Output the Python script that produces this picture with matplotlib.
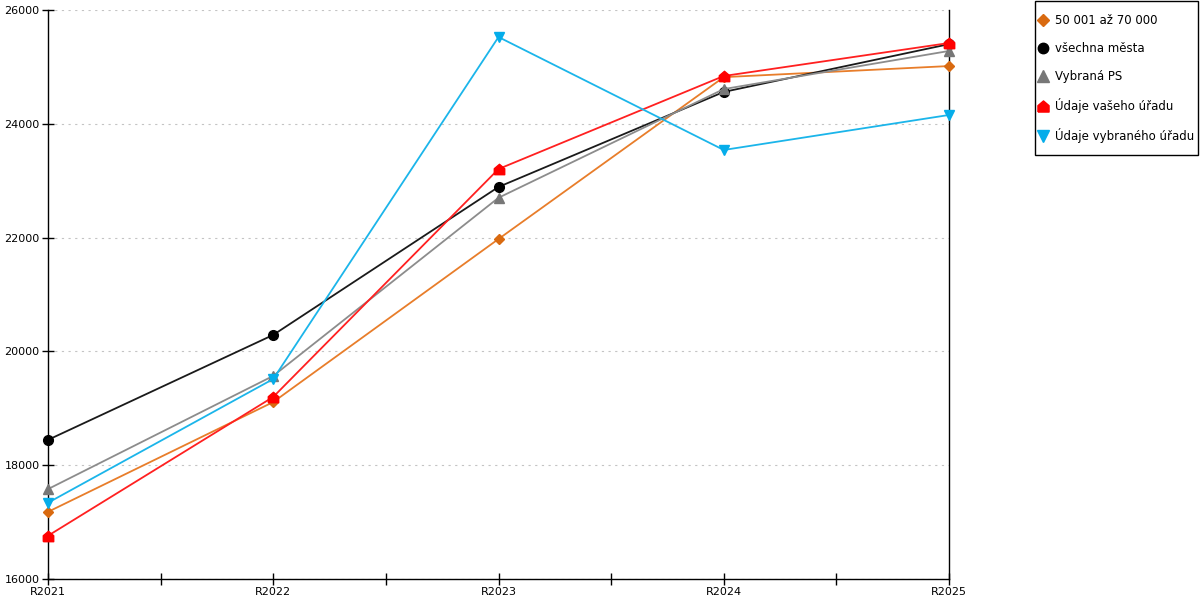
import matplotlib
matplotlib.use("Agg")
import matplotlib.pyplot as plt
from matplotlib.ticker import MultipleLocator
from matplotlib.patches import Rectangle

categories = ["R2021", "R2022", "R2023", "R2024", "R2025"]
s_5070 = [17180, 19110, 21975, 24820, 25015]
s_all = [18445, 20290, 22890, 24560, 25400]
s_ps = [17580, 19570, 22700, 24610, 25280]
s_vas = [16760, 19200, 23205, 24840, 25420]
s_vyb = [17340, 19515, 25525, 23540, 24155]
labels = ["50 001 až 70 000", "všechna města", "Vybraná PS", "Údaje vašeho úřadu", "Údaje vybraného úřadu"]

house = [(-1, -1), (1, -1), (1, 0.15), (0, 1), (-1, 0.15), (-1, -1)]

styles = [
    dict(color="#E87D2A", marker="D", mfc="#D96A10", mec="#D96A10", ms=5.5),
    dict(color="#1a1a1a", marker="o", mfc="black", mec="black", ms=7),
    dict(color="#8c8c8c", marker="^", mfc="#777777", mec="#777777", ms=7.5),
    dict(color="#FF2020", marker=house, mfc="red", mec="red", ms=7.5),
    dict(color="#1BB5EA", marker="v", mfc="#05ADEA", mec="#05ADEA", ms=7.5),
]
series = [s_5070, s_all, s_ps, s_vas, s_vyb]

fig = plt.figure(figsize=(12, 6), dpi=100)
ax = fig.add_axes([48/1200, 1-579/600, (949-48)/1200, (579-10)/600])
x = list(range(len(categories)))
for s, st, lab in zip(series, styles, labels):
    ax.plot(x, s, lw=1.3, label=lab, clip_on=False, zorder=3, **st)

ax.set_xlim(0, 4)
ax.set_ylim(16000, 26000)
ax.set_xticks(x)
ax.set_xticklabels(categories)
ax.xaxis.set_minor_locator(MultipleLocator(0.5))
ax.set_yticks([16000, 18000, 20000, 22000, 24000, 26000])
ax.tick_params(axis="both", which="both", direction="inout", length=8, width=1, labelsize=8, pad=2)
ax.tick_params(axis="x", which="minor", length=8)
ax.grid(axis="y", color="#c4c4c4", linestyle=(0, (2, 4)), lw=0.8)
ax.set_axisbelow(True)
ax.spines["top"].set_visible(False)
for sp in ["left", "right", "bottom"]:
    ax.spines[sp].set_color("black")
    ax.spines[sp].set_linewidth(1)

leg_handles = []
for st, lab in zip(styles, labels):
    h, = ax.plot([], [], linestyle="none", marker=st["marker"], mfc=st["mfc"], mec=st["mec"], ms=st["ms"] + 0.5, label=lab)
    leg_handles.append(h)
leg = fig.legend(handles=leg_handles, loc="upper left", bbox_to_anchor=(1037/1200, 1-14/600),
                 fontsize=8.5, frameon=False, labelspacing=1.27, handlelength=1.0,
                 handletextpad=0.5, borderpad=0, borderaxespad=0)
fig.patches.append(Rectangle((1034.5/1200, 1-155/600), 163/1200, 154/600, transform=fig.transFigure,
                             fill=False, ec="black", lw=1))

fig.savefig("out.png", dpi=100)
